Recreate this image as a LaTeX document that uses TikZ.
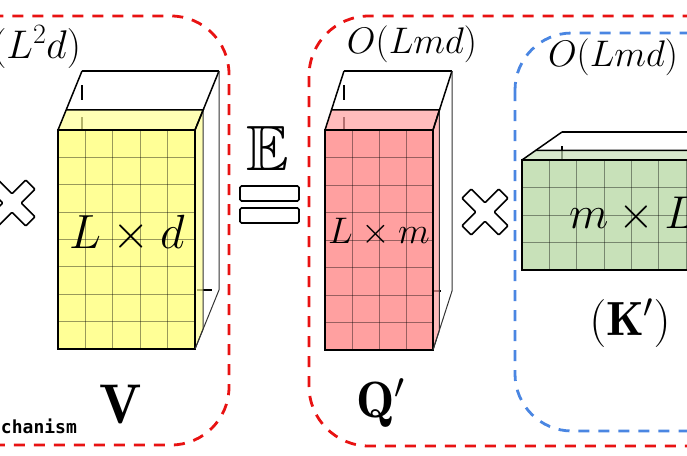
\RequirePackage{fix-cm}
\documentclass[tikz,border=0pt]{standalone}
\usepackage{amssymb}
\DeclareFontFamily{U}{msb}{}
\DeclareFontShape{U}{msb}{m}{n}{<->msbm10}{}
\usepackage{fontspec}
\newfontfamily\monof{DejaVu Sans Mono}
\definecolor{myred}{RGB}{232,18,18}
\definecolor{myblue}{RGB}{74,134,226}
\definecolor{yel}{RGB}{255,255,150}
\definecolor{pnk}{RGB}{255,160,160}
\definecolor{grn}{RGB}{200,225,185}
\tikzset{
  redbox/.style={draw=myred,line width=2.8,dash pattern=on 11pt off 9pt},
  bluebox/.style={draw=myblue,line width=2.8,dash pattern=on 11pt off 9pt},
  hiddenline/.style={draw=black,line width=1.4,dash pattern=on 15pt off 17pt,dash phase=18pt},
  frontface/.style={draw=black,line width=2.6},
  gridl/.style={draw=black,draw opacity=0.4,line width=0.8},
  wire/.style={draw=black,line width=1.5},
  thinwire/.style={draw=black!80,line width=1.0},
  topedge/.style={draw=black,line width=2.6},
  lbl/.style={inner sep=0pt,outer sep=0pt},
  eqbar/.style={draw=black,line width=1.6,fill=white,rounded corners=1.5,minimum width=59pt,minimum height=15pt,inner sep=0pt},
  xcross/.pic={\draw[line width=1.6,fill=white,rounded corners=1,rotate=45]
     (-6.5,-26)--(6.5,-26)--(6.5,-6.5)--(26,-6.5)--(26,6.5)--(6.5,6.5)--(6.5,26)
     --(-6.5,26)--(-6.5,6.5)--(-26,6.5)--(-26,-6.5)--(-6.5,-6.5)--cycle;}
}
% #1 x0, #2 y0 (front top-left), #3 width, #4 height, #5 cols, #6 rows, #7 Dx, #8 Dy, #9 colour
\newcommand\mycuboid[9]{%
  \draw[hiddenline] ({#1+#7},{#2+#8}) -- ({#1+#7},{#2+#4+#8}) -- ({#1+#3+#7},{#2+#4+#8});
  \fill[#9,fill opacity=0.7] (#1,#2) -- ({#1+0.34*#7},{#2+0.34*#8}) -- ({#1+#3+0.34*#7},{#2+0.34*#8}) -- ({#1+#3},#2) -- cycle;
  \fill[#9,fill opacity=0.7] ({#1+#3},#2) -- ({#1+#3+0.34*#7},{#2+0.34*#8}) -- ({#1+#3+0.34*#7},{#2+#4+0.34*#8}) -- ({#1+#3},{#2+#4}) -- cycle;
  \draw[wire] ({#1+0.34*#7},{#2+0.34*#8}) -- ({#1+#3+0.34*#7},{#2+0.34*#8}) -- ({#1+#3},#2);
  \draw[thinwire] ({#1+#3+0.34*#7},{#2+0.34*#8}) -- ({#1+#3+0.34*#7},{#2+#4+0.34*#8}) -- ({#1+#3},{#2+#4});
  \fill[#9] (#1,#2) rectangle ({#1+#3},{#2+#4});
  \foreach \i in {1,...,\numexpr#5-1\relax} \draw[gridl] ({#1+\i*#3/#5},#2) -- ({#1+\i*#3/#5},{#2+#4});
  \foreach \j in {1,...,\numexpr#6-1\relax} \draw[gridl] (#1,{#2+\j*#4/#6}) -- ({#1+#3},{#2+\j*#4/#6});
  \draw[frontface] (#1,#2) rectangle ({#1+#3},{#2+#4});
  \draw[wire] (#1,#2) -- ({#1+#7},{#2+#8});
  \draw[topedge] ({#1+#7},{#2+#8}) -- ({#1+#3+#7},{#2+#8});
  \draw[wire] ({#1+#3+#7},{#2+#8}) -- ({#1+#3},#2);
  \draw[thinwire] ({#1+#3+#7},{#2+#8}) -- ({#1+#3+#7},{#2+#4+#8}) -- ({#1+#3},{#2+#4});
}
\begin{document}
\begin{tikzpicture}[x=1pt,y=-1pt]
\useasboundingbox (0,0) rectangle (687,455);
\clip (0,0) rectangle (687,455);
\fill[white] (0,0) rectangle (687,455);
% dashed groups
\draw[redbox,rounded corners=58pt] (-120,16) rectangle (229,445);
\draw[redbox,rounded corners=60pt] (309,16) rectangle (820,446);
\draw[bluebox,rounded corners=57pt] (515,33) rectangle (820,431);
% cuboids
\mycuboid{58}{130}{137}{219}{5}{8}{24}{-59}{yel}
\mycuboid{325}{130}{108}{220}{4}{8}{19}{-59}{pnk}
\mycuboid{522}{160}{219}{110}{8}{4}{40}{-28}{grn}
% operators
\pic (crossA) at (12,203) {xcross};
\pic (crossB) at (485,212) {xcross};
\node[eqbar] (eqtop) at (269.5,193.5) {};
\node[eqbar] (eqbot) at (269.5,215.5) {};
\node[lbl,anchor=base] (expE) at (268,170) {\fontsize{64}{64}\selectfont$\mathbb{E}$};
% complexity labels
\node[lbl,anchor=base east] (cV) at (81,58) {\fontsize{40}{40}\selectfont$O(L^2d)$};
\node[lbl,anchor=base] (cQ) at (412,53) {\fontsize{37}{37}\selectfont$O(Lmd)$};
\node[lbl,anchor=base west] (cK) at (548,66) {\fontsize{37}{37}\selectfont$O(Lmd)$};
% matrix size labels
\node[lbl,anchor=base] (sV) at (127,248) {\fontsize{48}{48}\selectfont$L\times d$};
\node[lbl,anchor=base] (sQ) at (379,243) {\fontsize{37}{37}\selectfont$L\times m$};
\node[lbl,anchor=base west] (sK) at (569,228) {\fontsize{46}{46}\selectfont$m\times L$};
% matrix names
\node[lbl,anchor=base] (nV) at (121,423) {\fontsize{56}{56}\selectfont$\mathbf{V}$};
\node[lbl,anchor=base west] (nQ) at (356,417) {\fontsize{51}{51}\selectfont$\mathbf{Q}'$};
\node[lbl,anchor=base] (nK) at (630,335) {\fontsize{48}{48}\selectfont$(\mathbf{K}')$};
% cut caption
\node[lbl,anchor=base west] (cap) at (1,433) {\monof\bfseries\fontsize{18}{18}\selectfont chanism};
\end{tikzpicture}
\end{document}
